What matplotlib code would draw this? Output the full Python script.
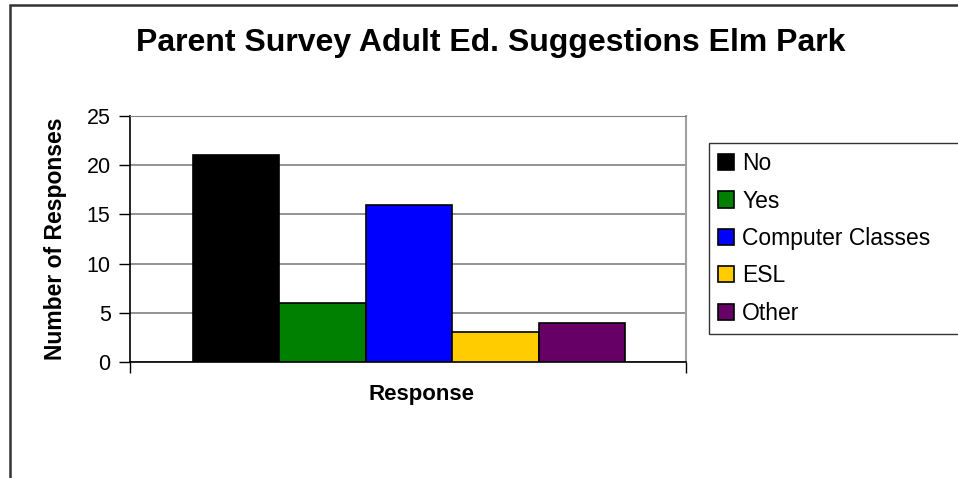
import matplotlib.pyplot as plt
from matplotlib.patches import Rectangle

plt.rcParams['font.family'] = ['Liberation Sans', 'DejaVu Sans']

categories = ['No', 'Yes', 'Computer Classes', 'ESL', 'Other']
responses = [21, 6, 16, 3, 4]
colors = ['#000000', '#008000', '#0000ff', '#ffcc00', '#660066']

fig = plt.figure(figsize=(9.58, 4.78), dpi=100)
ax = fig.add_axes([0.1357, 0.2427, 0.5804, 0.5146])

# one bar per answer, side by side in a single group
for i, (cat, val, col) in enumerate(zip(categories, responses, colors)):
    ax.bar(i, val, width=1.0, color=col, edgecolor='black', linewidth=1.2,
           label=cat, zorder=3)

ax.set_xlim(-1.228, 5.205)
ax.set_ylim(0, 25)
ax.set_yticks(range(0, 26, 5))
ax.yaxis.grid(True, color='#808080', linewidth=1.2, zorder=0)

ax.set_xticks(ax.get_xlim())
ax.set_xticklabels([])
ax.tick_params(axis='x', direction='out', length=8, width=1, color='black')
ax.tick_params(axis='y', direction='out', length=8, width=1, color='black',
               labelsize=15.5, pad=6)

for side in ('left', 'bottom'):
    ax.spines[side].set_color('black')
    ax.spines[side].set_linewidth(1.2)
ax.spines['top'].set_color('#808080')
ax.spines['right'].set_color('#a0a0a0')
ax.spines['right'].set_linewidth(1.5)

ax.set_ylabel('Number of Responses', fontsize=16.5, fontweight='bold')
ax.yaxis.set_label_coords(-0.114, 0.5)
ax.set_xlabel('Response', fontsize=16, fontweight='bold')
ax.xaxis.set_label_coords(0.525, -0.088)

fig.suptitle('Parent Survey Adult Ed. Suggestions Elm Park', x=0.512, y=0.942,
             fontsize=23, fontweight='bold')

leg = fig.legend(loc='upper left', bbox_to_anchor=(0.740, 0.701, 0.3, 0.0),
                 mode='expand',
                 fontsize=16.5, frameon=True, fancybox=False,
                 handlelength=0.7, handleheight=0.7, handletextpad=0.35,
                 labelspacing=0.63, borderpad=0.4, borderaxespad=0)
leg.get_frame().set_edgecolor('black')
leg.get_frame().set_linewidth(1.0)

# outer chart border (only top and left fall inside the image)
fig.add_artist(Rectangle((10 / 958, -0.1), 1.2, 1 - 5 / 478 + 0.1,
                         transform=fig.transFigure, fill=False,
                         edgecolor='#333333', linewidth=1.8))

fig.savefig('out.png', dpi=100)
